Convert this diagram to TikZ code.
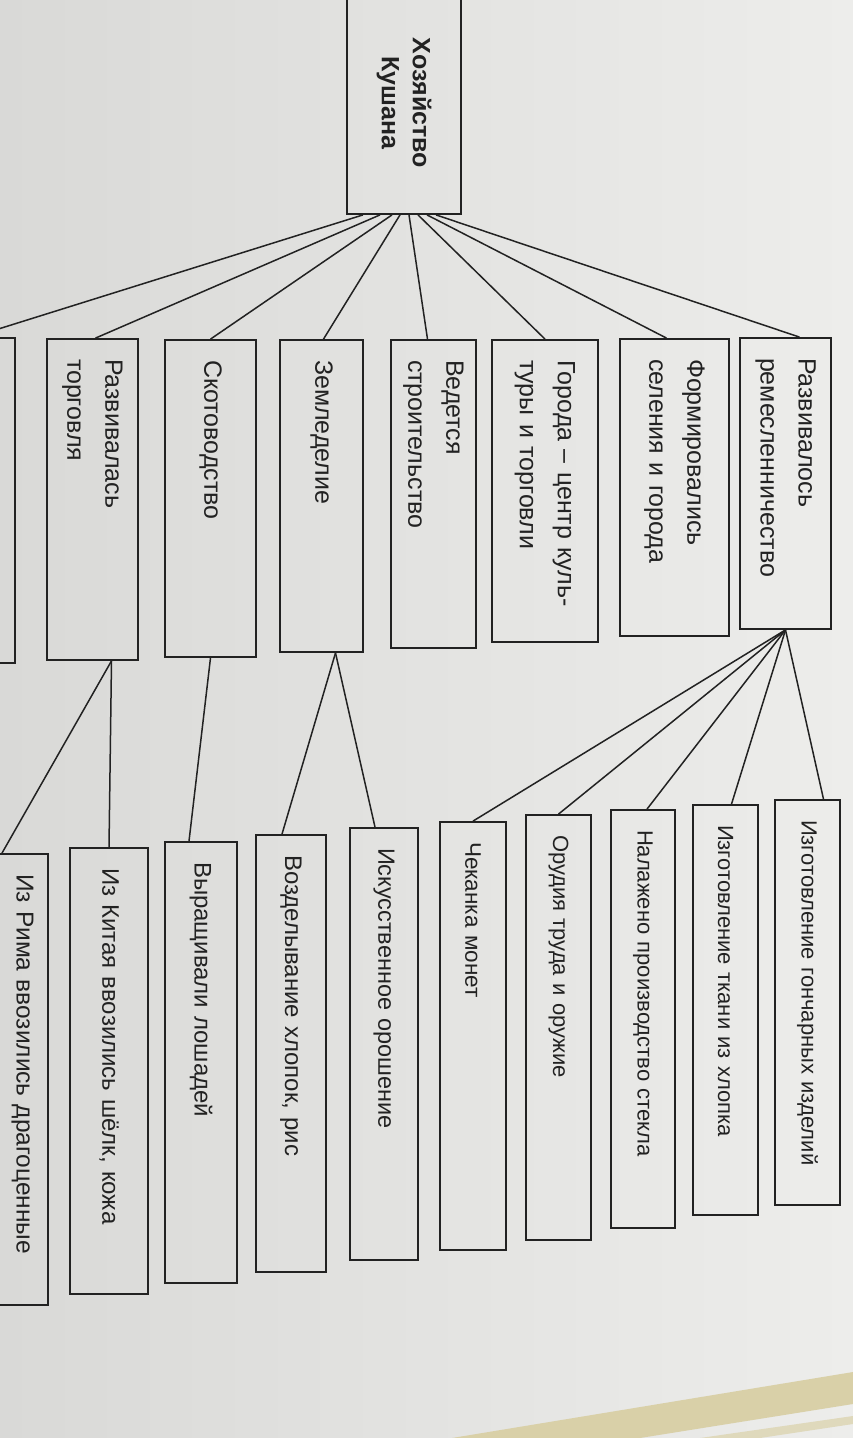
\documentclass[tikz,border=0pt]{standalone}
\usepackage{fontspec}
\setmainfont{Liberation Sans}
\definecolor{ink}{HTML}{222222}
\definecolor{paperL}{HTML}{D9D9D7}
\definecolor{paperR}{HTML}{EDEDEB}
\definecolor{band}{HTML}{D9D0A8}
\begin{document}
\begin{tikzpicture}[x=1pt,y=-1pt,
  box/.style={draw=ink, line width=1.8pt, rotate=-90, inner xsep=20pt, inner ysep=0pt, align=left, text=ink},
  link/.style={draw=ink, line width=1.5pt},
  rootfont/.style={font=\bfseries\fontsize{25}{31}\selectfont},
  fa/.style={font=\fontsize{25}{38}\selectfont},
  fb/.style={font=\fontsize{#1}{30}\selectfont}
]
\path[use as bounding box] (0,0) rectangle (853,1438);
\clip (0,0) rectangle (853,1438);
\shade[left color=paperL, right color=paperR] (0,0) rectangle (853,1438);
\fill[band] (452,1438) -- (853,1372) -- (853,1404) -- (640,1438) -- cycle;
\fill[band!70!paperR] (700,1438) -- (853,1416) -- (853,1424) -- (760,1438) -- cycle;

% root
\node[box, rootfont, align=center, text width=182pt, minimum height=114pt] (root) at (404,103) {Хозяйство\\Кушана};

% level 1
\node[box, fa, text width=251pt, minimum height=91pt] (rem) at (785.5,483.5) {Развивалось\\ремесленничество};
\node[box, fa, text width=257pt, minimum height=109pt] (form) at (674.5,487.5) {Формировались\\селения и города};
\node[box, fa, text width=262pt, minimum height=106pt] (gor) at (545,491) {Города – центр куль-\\туры и торговли};
\node[box, fa, text width=268pt, minimum height=85pt] (ved) at (433.5,494) {Ведется\\строительство};
\node[box, fa, text width=272pt, minimum height=83pt] (zem) at (321.5,496) {Земледелие};
\node[box, fa, text width=277pt, minimum height=91pt] (skot) at (210.5,498.5) {Скотоводство};
\node[box, fa, text width=281pt, minimum height=91pt] (torg) at (92.5,499.5) {Развивалась\\торговля};
\node[box, fa, text width=285pt, minimum height=85pt] (left8) at (-27.5,500.5) {};

% level 2
\node[box, fb=22, text width=365pt, minimum height=65pt] (pot) at (807.5,1002.5) {Изготовление гончарных изделий};
\node[box, fb=22, text width=370pt, minimum height=65pt] (tkan) at (725.5,1010) {Изготовление ткани из хлопка};
\node[box, fb=22, text width=378pt, minimum height=64pt] (stek) at (643,1019) {Налажено производство стекла};
\node[box, fb=22, text width=385pt, minimum height=65pt] (orud) at (558.5,1027.5) {Орудия труда и оружие};
\node[box, fb=22.5, text width=388pt, minimum height=66pt] (chek) at (473,1036) {Чеканка монет};
\node[box, fb=23.5, text width=392pt, minimum height=68pt] (oros) at (384,1044) {Искусственное орошение};
\node[box, fb=24, text width=397pt, minimum height=70pt] (vozd) at (291,1053.5) {Возделывание хлопок, рис};
\node[box, fb=24, text width=401pt, minimum height=72pt] (losh) at (201,1062.5) {Выращивали лошадей};
\node[box, fb=24, text width=406pt, minimum height=78pt] (kit) at (109,1071) {Из Китая ввозились шёлк, кожа};
\node[box, fb=24.5, text width=411pt, minimum height=76pt] (rim) at (10,1079.5) {Из Рима ввозились драгоценные\\~};

% root connectors
\draw[link] ([xshift=-41pt]root.east) -- (left8.west);
\draw[link] ([xshift=-24pt]root.east) -- ([xshift=3pt]torg.west);
\draw[link] ([xshift=-12pt]root.east) -- (skot.west);
\draw[link] ([xshift=-4pt]root.east) -- ([xshift=2pt]zem.west);
\draw[link] ([xshift=5pt]root.east) -- ([xshift=-6pt]ved.west);
\draw[link] ([xshift=14pt]root.east) -- (gor.west);
\draw[link] ([xshift=23pt]root.east) -- ([xshift=-8pt]form.west);
\draw[link] ([xshift=32pt]root.east) -- ([xshift=14pt]rem.west);

% crafts
\draw[link] (rem.east) -- ([xshift=16pt]pot.west);
\draw[link] (rem.east) -- ([xshift=6pt]tkan.west);
\draw[link] (rem.east) -- ([xshift=4pt]stek.west);
\draw[link] (rem.east) -- (orud.west);
\draw[link] (rem.east) -- (chek.west);

% farming
\draw[link] ([xshift=14pt]zem.east) -- ([xshift=-9pt]vozd.west);
\draw[link] ([xshift=14pt]zem.east) -- ([xshift=-9pt]oros.west);
\draw[link] (skot.east) -- ([xshift=-12pt]losh.west);

% trade
\draw[link] ([xshift=19pt]torg.east) -- (kit.west);
\draw[link] ([xshift=19pt]torg.east) -- ([xshift=-8pt]rim.west);
\end{tikzpicture}
\end{document}
